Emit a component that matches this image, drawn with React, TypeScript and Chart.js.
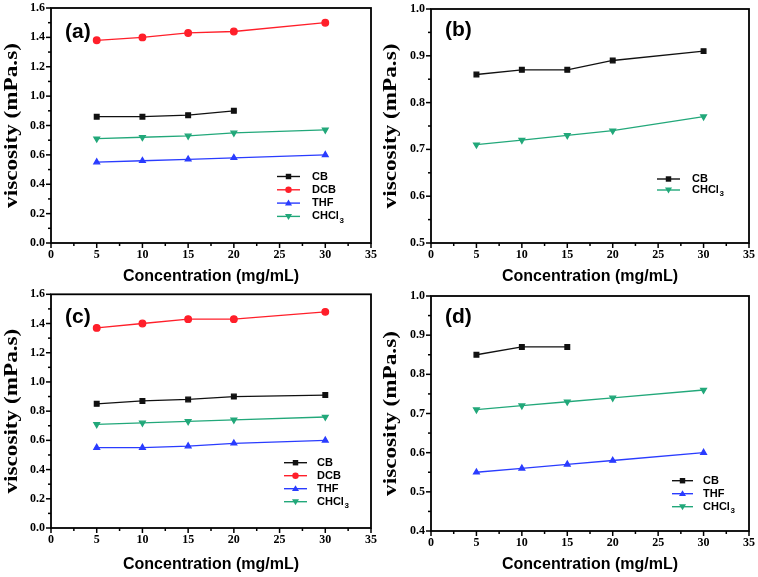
import React, { useEffect, useRef } from "react";
import { Chart, registerables } from "chart.js";

Chart.register(...registerables);

// ---------- data ----------
const CONC = [5, 10, 15, 20, 30];

const A_CB = [0.86, 0.86, 0.87, 0.9];
const A_DCB = [1.38, 1.4, 1.43, 1.44, 1.5];
const A_THF = [0.55, 0.56, 0.57, 0.58, 0.6];
const A_CHCL3 = [0.71, 0.72, 0.73, 0.75, 0.77];

const B_CB = [0.86, 0.87, 0.87, 0.89, 0.91];
const B_CHCL3 = [0.71, 0.72, 0.73, 0.74, 0.77];

const C_CB = [0.85, 0.87, 0.88, 0.9, 0.91];
const C_DCB = [1.37, 1.4, 1.43, 1.43, 1.48];
const C_THF = [0.55, 0.55, 0.56, 0.58, 0.6];
const C_CHCL3 = [0.71, 0.72, 0.73, 0.74, 0.76];

const D_CB = [0.85, 0.87, 0.87];
const D_THF = [0.55, 0.56, 0.57, 0.58, 0.6];
const D_CHCL3 = [0.71, 0.72, 0.73, 0.74, 0.76];

const X_RANGE = { min: 0, max: 35, step: 5 };
const Y_RANGE_AC = { min: 0, max: 1.6, step: 0.2 };
const Y_RANGE_B = { min: 0.5, max: 1.0, step: 0.1 };
const Y_RANGE_D = { min: 0.4, max: 1.0, step: 0.1 };

const X_TITLE = "Concentration (mg/mL)";
const Y_TITLE = "viscosity (mPa.s)";

// ---------- styles ----------
const STYLE: Record<string, any> = {
  CB: { color: "#111111", pointStyle: "rect", rotation: 0, label: "CB" },
  DCB: { color: "#ff1f2a", pointStyle: "circle", rotation: 0, label: "DCB" },
  THF: { color: "#2a3cff", pointStyle: "triangle", rotation: 0, label: "THF" },
  CHCL3: { color: "#22a87a", pointStyle: "triangle", rotation: 180, label: "CHCl|3" },
};

type Panel = {
  tag: string;
  left: number;
  top: number;
  w: number;
  h: number;
  area: { l: number; t: number; r: number; b: number };
  yRange: { min: number; max: number; step: number };
  series: { key: string; values: number[] }[];
  legend: { x0: number; x1: number; tx: number; y0: number; dy: number };
  labelPos: { x: number; y: number };
};

const PANELS: Panel[] = [
  {
    tag: "(a)", left: 0, top: 0, w: 379, h: 289,
    area: { l: 51, t: 8, r: 371, b: 243 },
    yRange: Y_RANGE_AC,
    series: [
      { key: "CB", values: A_CB },
      { key: "DCB", values: A_DCB },
      { key: "THF", values: A_THF },
      { key: "CHCL3", values: A_CHCL3 },
    ],
    legend: { x0: 277, x1: 300, tx: 312, y0: 176.5, dy: 13.3 },
    labelPos: { x: 65, y: 32 },
  },
  {
    tag: "(b)", left: 379, top: 0, w: 379, h: 289,
    area: { l: 52, t: 9, r: 370, b: 243 },
    yRange: Y_RANGE_B,
    series: [
      { key: "CB", values: B_CB },
      { key: "CHCL3", values: B_CHCL3 },
    ],
    legend: { x0: 278, x1: 301, tx: 313, y0: 179, dy: 11 },
    labelPos: { x: 66, y: 30 },
  },
  {
    tag: "(c)", left: 0, top: 289, w: 379, h: 288,
    area: { l: 51, t: 5, r: 371, b: 239 },
    yRange: Y_RANGE_AC,
    series: [
      { key: "CB", values: C_CB },
      { key: "DCB", values: C_DCB },
      { key: "THF", values: C_THF },
      { key: "CHCL3", values: C_CHCL3 },
    ],
    legend: { x0: 284, x1: 307, tx: 317, y0: 173.7, dy: 13 },
    labelPos: { x: 65, y: 28 },
  },
  {
    tag: "(d)", left: 379, top: 289, w: 379, h: 288,
    area: { l: 52, t: 7, r: 370, b: 242 },
    yRange: Y_RANGE_D,
    series: [
      { key: "CB", values: D_CB },
      { key: "THF", values: D_THF },
      { key: "CHCL3", values: D_CHCL3 },
    ],
    legend: { x0: 293, x1: 314, tx: 324, y0: 191.7, dy: 13 },
    labelPos: { x: 66, y: 28 },
  },
];

const TICK_FONT = "bold 12px 'Liberation Serif', 'Times New Roman', serif";
const YTITLE_FONT = "bold 19px 'Liberation Serif', 'Times New Roman', serif";
const XTITLE_FONT = "bold 16px 'Liberation Sans', Arial, sans-serif";
const LEGEND_FONT = "bold 11px 'Liberation Sans', Arial, sans-serif";
const LEGEND_SUB_FONT = "bold 8px 'Liberation Sans', Arial, sans-serif";
const TAG_FONT = "bold 21px 'Liberation Sans', Arial, sans-serif";

function drawMarker(ctx: CanvasRenderingContext2D, style: string, rot: number, x: number, y: number, r: number) {
  ctx.beginPath();
  if (style === "rect") {
    ctx.rect(x - r * 0.85, y - r * 0.85, r * 1.7, r * 1.7);
  } else if (style === "circle") {
    ctx.arc(x, y, r, 0, Math.PI * 2);
  } else {
    const s = rot === 180 ? -1 : 1;
    ctx.moveTo(x, y - s * r * 1.1);
    ctx.lineTo(x + r * 1.1, y + s * r * 0.75);
    ctx.lineTo(x - r * 1.1, y + s * r * 0.75);
    ctx.closePath();
  }
  ctx.fill();
}

function makeDecorPlugin(panel: Panel) {
  return {
    id: "decor" + panel.tag,
    afterDraw(chart: any) {
      const ctx: CanvasRenderingContext2D = chart.ctx;
      const { left, right, top, bottom } = chart.chartArea;
      const xs = chart.scales.x;
      const ys = chart.scales.y;
      ctx.save();
      ctx.strokeStyle = "#000";
      ctx.fillStyle = "#000";
      // frame
      ctx.lineWidth = 1.8;
      ctx.strokeRect(left, top, right - left, bottom - top);

      // y ticks
      ctx.lineWidth = 1.5;
      const yt = ys.ticks.map((t: any) => t.value);
      ctx.font = TICK_FONT;
      ctx.textAlign = "right";
      ctx.textBaseline = "middle";
      yt.forEach((v: number, i: number) => {
        const py = ys.getPixelForValue(v);
        ctx.beginPath();
        ctx.moveTo(left - 5, py);
        ctx.lineTo(left, py);
        ctx.stroke();
        ctx.fillText(v.toFixed(1), left - 6, py);
        if (i < yt.length - 1) {
          const pm = ys.getPixelForValue((v + yt[i + 1]) / 2);
          ctx.beginPath();
          ctx.moveTo(left - 3, pm);
          ctx.lineTo(left, pm);
          ctx.stroke();
        }
      });

      // x ticks
      const xt = xs.ticks.map((t: any) => t.value);
      ctx.textAlign = "center";
      ctx.textBaseline = "top";
      xt.forEach((v: number, i: number) => {
        const px = xs.getPixelForValue(v);
        ctx.beginPath();
        ctx.moveTo(px, bottom);
        ctx.lineTo(px, bottom + 5);
        ctx.stroke();
        ctx.fillText(String(Math.round(v)), px, bottom + 6);
        if (i < xt.length - 1) {
          const pm = xs.getPixelForValue((v + xt[i + 1]) / 2);
          ctx.beginPath();
          ctx.moveTo(pm, bottom);
          ctx.lineTo(pm, bottom + 3);
          ctx.stroke();
        }
      });

      // axis titles
      ctx.font = XTITLE_FONT;
      ctx.textAlign = "center";
      ctx.textBaseline = "middle";
      ctx.fillText(X_TITLE, (left + right) / 2, chart.height - 12);

      ctx.save();
      ctx.translate(12, (top + bottom) / 2);
      ctx.rotate(-Math.PI / 2);
      ctx.scale(1.22, 1);
      ctx.font = YTITLE_FONT;
      ctx.fillText(Y_TITLE, 0, 0);
      ctx.restore();

      // panel tag
      ctx.font = TAG_FONT;
      ctx.textAlign = "left";
      ctx.textBaseline = "middle";
      ctx.fillText(panel.tag, panel.labelPos.x, panel.labelPos.y);

      // legend
      const lg = panel.legend;
      chart.data.datasets.forEach((ds: any, i: number) => {
        const y = lg.y0 + i * lg.dy;
        ctx.strokeStyle = ds.borderColor;
        ctx.fillStyle = ds.borderColor;
        ctx.lineWidth = 1.4;
        ctx.beginPath();
        ctx.moveTo(lg.x0, y);
        ctx.lineTo(lg.x1, y);
        ctx.stroke();
        drawMarker(ctx, ds.pointStyle, ds.pointRotation, (lg.x0 + lg.x1) / 2, y, 3.2);
        ctx.fillStyle = "#000";
        ctx.textAlign = "left";
        ctx.textBaseline = "middle";
        const [main, sub] = String(ds.label).split("|");
        ctx.font = LEGEND_FONT;
        ctx.fillText(main, lg.tx, y);
        if (sub) {
          const w = ctx.measureText(main).width;
          ctx.font = LEGEND_SUB_FONT;
          ctx.fillText(sub, lg.tx + w + 0.5, y + 4);
        }
      });
      ctx.restore();
    },
  };
}

function PanelChart({ panel }: { panel: Panel }) {
  const ref = useRef<HTMLCanvasElement | null>(null);
  useEffect(() => {
    if (!ref.current) return;
    const datasets = panel.series.map((s) => {
      const st = STYLE[s.key];
      return {
        label: st.label,
        data: s.values.map((v, i) => ({ x: CONC[i], y: v })),
        borderColor: st.color,
        backgroundColor: st.color,
        pointBackgroundColor: st.color,
        pointBorderColor: st.color,
        pointStyle: st.pointStyle,
        pointRotation: st.rotation,
        pointRadius: 3.3,
        borderWidth: 1.3,
        tension: 0,
      };
    });
    const a = panel.area;
    const chart = new Chart(ref.current, {
      type: "line",
      data: { datasets: datasets as any },
      options: {
        animation: false,
        responsive: false,
        devicePixelRatio: 1,
        layout: {
          padding: { left: a.l, top: a.t, right: panel.w - a.r, bottom: panel.h - a.b },
        },
        plugins: { legend: { display: false }, tooltip: { enabled: false } },
        scales: {
          x: {
            type: "linear",
            display: false,
            min: X_RANGE.min,
            max: X_RANGE.max,
            ticks: { stepSize: X_RANGE.step },
          },
          y: {
            type: "linear",
            display: false,
            min: panel.yRange.min,
            max: panel.yRange.max,
            ticks: { stepSize: panel.yRange.step },
          },
        },
      },
      plugins: [makeDecorPlugin(panel)],
    });
    return () => chart.destroy();
  }, [panel]);
  return (
    <canvas
      ref={ref}
      width={panel.w}
      height={panel.h}
      style={{ position: "absolute", left: panel.left, top: panel.top, width: panel.w, height: panel.h }}
    />
  );
}

export default function App() {
  return (
    <div style={{ position: "fixed", left: 0, top: 0, width: 758, height: 577, background: "#fff" }}>
      {PANELS.map((p) => (
        <PanelChart key={p.tag} panel={p} />
      ))}
    </div>
  );
}
